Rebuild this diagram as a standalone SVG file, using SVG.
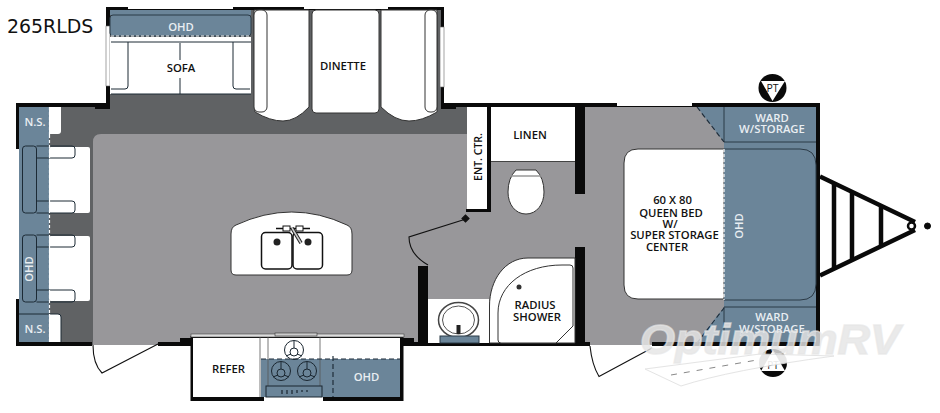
<svg xmlns="http://www.w3.org/2000/svg" width="940" height="413" viewBox="0 0 940 413">
<style>
.l{font-family:"Open Sans","Liberation Sans",sans-serif;font-size:11.3px;fill:#111;text-anchor:middle;font-weight:600}
.w{font-family:"Open Sans","Liberation Sans",sans-serif;font-size:11.3px;fill:#e9eef2;text-anchor:middle;font-weight:600}
.s{fill:#fff;stroke:#333;stroke-width:1}
.b{fill:#6b8599}
.bl{fill:#6b8599;stroke:#2b3a46;stroke-width:1}
.k{fill:#0a0a0a}
.wd{fill:#fff}
.d{fill:none;stroke:#fff;stroke-width:1.2;stroke-dasharray:3 2}
.dd{fill:none;stroke:#1f2d3a;stroke-width:1.2;stroke-dasharray:5 3}
.ln{fill:none;stroke:#1c2a35;stroke-width:1}
</style>
<rect width="940" height="413" fill="#fff"/>
<g id="floor">
<rect x="17" y="105" width="803" height="240" fill="#606264"/>
<rect x="110" y="10" width="331" height="100" fill="#606264"/>
<path d="M93 345V142q0-8 8-8H467V107H820V345Z" fill="#98979a"/>
</g>
<g id="walls">
<path class="k" d="M16 103H106V7H444V103H820V107H441V10H110V107H19V345H16Z"/>
<rect class="k" x="95" y="105" width="15" height="4"/>
<rect class="k" x="441" y="105" width="15" height="4"/>
<rect class="k" x="816" y="104" width="4" height="242"/>
<rect class="k" x="16" y="342" width="76" height="4"/>
<rect class="k" x="158" y="342" width="33" height="4"/>
<rect class="k" x="403" y="342" width="187" height="4"/>
<rect class="k" x="652" y="342" width="168" height="4"/>
<rect class="wd" x="128" y="7" width="105" height="2"/>
<rect class="wd" x="304" y="7" width="84" height="2"/>
<rect class="wd" x="617" y="103" width="75" height="3"/>
<rect x="106" y="26" width="4" height="60" fill="#fff" stroke="#666" stroke-width=".6"/>
<rect x="440" y="27" width="4" height="60" fill="#fff" stroke="#666" stroke-width=".6"/>
<rect x="16" y="149" width="3" height="150" fill="#fff"/>
<rect class="k" x="418" y="266" width="10" height="77"/>
<rect class="k" x="575" y="107" width="10" height="87"/>
<rect class="k" x="575" y="247" width="10" height="97"/>
<path class="k" d="M487 107h4v105h-25v-3h21Z"/>
</g>
<g id="sofa">
<rect class="wd" x="110" y="37" width="141" height="57"/>
<rect x="110" y="10" width="141" height="5" class="b"/>
<rect x="110" y="15" width="141" height="21" rx="3" class="bl"/>
<path class="d" d="M111 36H251"/>
<path class="ln" d="M111 42H251M180 43V60M180 78V94M128 42V86q0 3-3 3H111M233 42V86q0 3 3 3H250M111 94H251" stroke="#333"/>
<text class="w" x="181" y="31">OHD</text>
<text class="l" x="181" y="72">SOFA</text>
</g>
<g id="dinette">
<path class="s" d="M254 10H309V107Q296 121 283 121Q270 121 255 112Z"/>
<rect class="s" x="254" y="10" width="13" height="102" rx="5"/>
<rect class="s" x="312" y="10" width="67" height="103" rx="4"/>
<path class="s" d="M381 10H437V112Q422 121 409 121Q395 121 381 107Z"/>
<rect class="s" x="425" y="10" width="12" height="102" rx="5"/>
<text class="l" x="343" y="69.500">DINETTE</text>
</g>
<g id="ns-top">
<rect class="b" x="19" y="107" width="30" height="28"/>
<path d="M49 107H61V131q0 3-3 3H49Z" class="wd"/>
<path class="d" d="M49.500 107V135"/>
<text class="w" x="35" y="126">N.S.</text>
</g>
<g id="sofa-left">
<rect class="b" x="19" y="135" width="30" height="207"/>
<rect class="wd" x="49" y="147" width="41" height="66" rx="2"/>
<rect class="wd" x="49" y="236" width="41" height="65" rx="2"/>
<rect class="ln" x="22.500" y="146" width="14" height="67" rx="3"/>
<rect class="ln" x="22.500" y="235" width="14" height="67" rx="3"/>
<path class="ln" d="M36.500 146H72a3 3 0 0 1 3 3v6a3 3 0 0 1-3 3H36.500M36.500 201H72a3 3 0 0 1 3 3v6a3 3 0 0 1-3 3H36.500M36.500 235H72a3 3 0 0 1 3 3v6a3 3 0 0 1-3 3H36.500M36.500 290H72a3 3 0 0 1 3 3v6a3 3 0 0 1-3 3H36.500"/>
<path class="d" d="M49.500 135V314"/>
<text class="w" transform="translate(33 269) rotate(-90)">OHD</text>
</g>
<g id="ns-bottom">
<path class="wd" d="M49 314H58q3 0 3 3V342H49Z"/>
<path class="ln" d="M19 314H58q3 0 3 3V342" stroke-width=".6"/>
<path class="d" d="M49.500 314V342"/>
<text class="w" x="35" y="333">N.S.</text>
</g>
<g id="island">
<path class="s" d="M231 234Q231 227 236 225Q292 199 347 225Q352 227 352 234V270q0 5-5 5H236q-5 0-5-5Z"/>
<rect x="261.500" y="232.500" width="30.500" height="36.500" rx="4" fill="#fff" stroke="#111" stroke-width="1.500"/>
<rect x="293" y="232.500" width="29.500" height="36.500" rx="4" fill="#fff" stroke="#111" stroke-width="1.500"/>
<circle cx="277" cy="242" r="3.500" fill="#222"/>
<circle cx="308" cy="242" r="3.500" fill="#222"/>
<path d="M276 228.500H310" stroke="#111" stroke-width="1.500"/>
<rect x="283" y="226" width="7" height="5" fill="#fff" stroke="#111"/>
<rect x="296" y="226" width="7" height="5" fill="#fff" stroke="#111"/>
<path d="M292 228L301 243" stroke="#222" stroke-width="3.500"/>
<path d="M292 228L301 243" stroke="#ccc" stroke-width="1.500"/>
</g>
<g id="kitchen">
<rect class="k" x="190.500" y="336" width="213" height="65"/>
<rect class="wd" x="193" y="338" width="207" height="59"/>
<rect class="b" x="261" y="359" width="139" height="38"/>
<rect class="wd" x="264" y="397" width="59" height="4"/>
<path d="M260 337V397M268 337V386M320 337V386" fill="none" stroke="#555" stroke-width=".8"/>
<rect x="191" y="334" width="213" height="3" fill="#ddd" stroke="#444" stroke-width=".6"/>
<rect x="275" y="333" width="42" height="3" fill="#ccc" stroke="#333" stroke-width=".6"/>
<rect class="k" x="180" y="338" width="11" height="4"/>
<rect class="k" x="403" y="338" width="11" height="4"/>
<path class="dd" d="M261 359H400M333 356V397"/>
<g fill="none" stroke="#1a2630" stroke-width="1">
<circle cx="294" cy="350" r="9.500"/><circle cx="294" cy="352" r="4"/><path d="M294 341V348M286 356L291 354M302 356L297 354"/>
<circle cx="281" cy="371" r="9.500"/><circle cx="281" cy="373" r="4"/><path d="M281 362V369M273 377L278 375M289 377L284 375"/>
<circle cx="307" cy="371" r="9.500"/><circle cx="307" cy="373" r="4"/><path d="M307 362V369M299 377L304 375M315 377L310 375"/>
<rect x="266" y="386" width="56" height="11"/>
<path d="M282 390V394M287 390V394M292 390V394M297 390V393M302 390V392M307 390V392" stroke-width="1.200"/>
</g>
<text class="l" x="228.500" y="373">REFER</text>
<text class="w" x="366.500" y="381">OHD</text>
</g>
<g id="entertainment">
<rect class="wd" x="467" y="107" width="20" height="102"/>
<text class="l" style="font-size:10.500px" transform="translate(482 157) rotate(-90)">ENT. CTR.</text>
</g>
<g id="linen">
<rect class="wd" x="491" y="107" width="84" height="54"/>
<path d="M491 161.500H575" fill="none" stroke="#444"/>
<text class="l" x="530" y="139">LINEN</text>
</g>
<g id="toilet">
<path class="s" d="M516 170H536Q544 178 544 192C544 204 537 214 526 214C515 214 508 204 508 192Q508 178 516 170Z"/>
<path d="M511 176H541" stroke="#999" stroke-width="1.500"/>
</g>
<g id="vanity">
<path class="wd" d="M428 299H489V343H428Z"/>
<ellipse cx="458.500" cy="320" rx="20" ry="17.500" fill="#fff" stroke="#444" stroke-width="1.500"/>
<ellipse cx="458.500" cy="320" rx="16" ry="14" fill="none" stroke="#555"/>
<rect class="bl" x="440" y="336" width="39" height="7"/>
<path d="M458.500 325V334" stroke="#222" stroke-width="4"/>
</g>
<g id="shower">
<path class="s" d="M489.500 343V306C489.500 280 505 258 528 258H575V343Z"/>
<path class="s" d="M498 340V313C498 285 525 265 562 265H570q3 0 3 3V326L556 343H501q-3 0-3-3Z"/>
<circle cx="519" cy="287" r="2.500" fill="#333"/>
<text class="l" x="535" y="308.500">RADIUS</text>
<text class="l" x="537" y="321">SHOWER</text>
</g>
<g id="bed">
<path class="s" d="M724 149H638q-14 0-14 14V285q0 14 14 14H724Z"/>
<text class="l" x="672.500" y="204">60 X 80</text>
<text class="l" x="671" y="216.500">QUEEN BED</text>
<text class="l" x="670" y="227.500">W/</text>
<text class="l" x="674.500" y="239">SUPER STORAGE</text>
<text class="l" x="667" y="251">CENTER</text>
</g>
<g id="front-ohd">
<rect class="b" x="724" y="142" width="92" height="165"/>
<path d="M724 149H800q16 0 16 16V284q0 16-16 16H724" fill="none" stroke="#2b3a46"/>
<path class="d" d="M724 149V300"/>
<text class="w" transform="translate(743 226) rotate(-90)">OHD</text>
</g>
<g id="ward-top">
<path class="b" d="M697 107H816V142H724Z"/>
<path d="M724 107V142H816" fill="none" stroke="#2b3a46"/>
<path class="dd" d="M697 107L724 142" stroke-width="1"/>
<text class="w" x="772" y="121.500">WARD</text>
<text class="w" x="772" y="133">W/STORAGE</text>
</g>
<g id="ward-bottom">
<path class="b" d="M724 307H816V342H697Z"/>
<path d="M724 342V307H816" fill="none" stroke="#2b3a46"/>
<text class="w" x="772" y="321">WARD</text>
<text class="w" x="772" y="333">W/STORAGE</text>
</g>
<g id="pt-top">
<circle cx="772.500" cy="88" r="14" fill="#0a0a0a"/>
<path d="M761 81H785L772.500 101Z" fill="#fff"/>
<text x="772.500" y="92" font-family="Open Sans,sans-serif" font-size="10.500" fill="#111" text-anchor="middle">PT</text>
</g>
<g id="pt-bottom">
<circle cx="773" cy="363" r="14" fill="#0a0a0a"/>
<path d="M761 371H785L773 350Z" fill="#fff"/>
<text x="773" y="369" font-family="Open Sans,sans-serif" font-size="10" fill="#111" text-anchor="middle">PT</text>
</g>
<g id="hitch" fill="none" stroke="#0a0a0a">
<path d="M820 176.500L915 222M820 275.500L915 230" stroke-width="4.500"/>
<path d="M834 184V268M852 192V260M881 207V245" stroke-width="4.500"/>
<circle cx="911.500" cy="226" r="3.500" fill="#fff" stroke-width="2.500"/>
<circle cx="927.500" cy="226" r="3" fill="#0a0a0a" stroke-width="1"/>
</g>
<g id="connectors" fill="none" stroke="#111" stroke-width="1.100">
<path d="M93 345Q93 364 102 373L158 344"/>
<path d="M428 265Q409 254 409 237L466 219"/>
<path d="M590 346Q592 365 599 376.500L652 348"/>
<path d="M697 343L724 308" stroke="#1f2d3a" stroke-dasharray="5 3"/>
<rect x="463" y="216" width="5" height="5" fill="#111" transform="rotate(45 465.500 218.500)"/>
</g>
<g id="title">
<text x="7" y="33" font-family="DejaVu Sans,sans-serif" font-size="18.900px" fill="#111">265RLDS</text>
</g>
<g id="watermark">
<path d="M645 369L760 354L834 356Q730 370 681 386Z" fill="#fff" opacity=".9" stroke="#e2e2e2"/>
<path d="M671 375L757 360" stroke="#888" stroke-dasharray="6 7" fill="none"/>
<text x="640" y="354" font-family="Liberation Sans,sans-serif" font-style="italic" font-weight="700" font-size="43px" textLength="260" lengthAdjust="spacingAndGlyphs" fill="#e6e6e6" fill-opacity=".82" stroke="#e6e6e6" stroke-opacity=".7" stroke-width="1.500">OptimumRV</text>
</g>
</svg>
